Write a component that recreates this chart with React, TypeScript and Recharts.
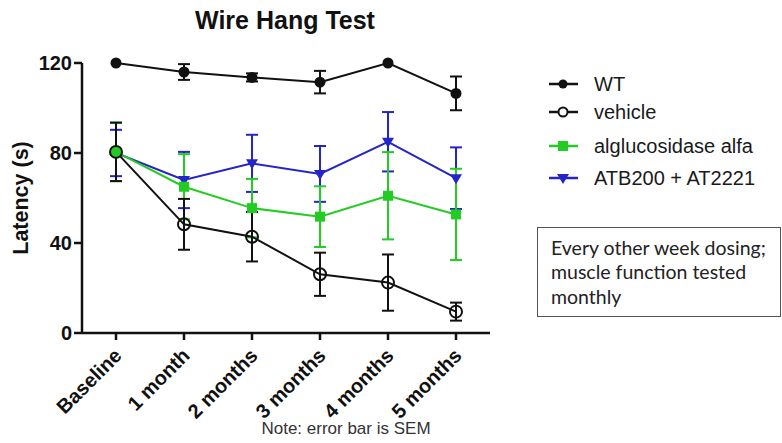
import React from 'react';
import { LineChart, Line, XAxis, YAxis, ErrorBar } from 'recharts';

const categories = ['Baseline', '1 month', '2 months', '3 months', '4 months', '5 months'];
const wt = [120, 116, 113.6, 111.5, 120, 106.5];
const wtSem = [0, 3.5, 1.8, 5, 0, 7.5];
const vehicle = [80.5, 48.3, 42.8, 26.1, 22.4, 9.5];
const vehicleSem = [13, 11.3, 11, 9.6, 12.5, 4];
const alglu = [80.5, 65, 55.5, 51.7, 61, 52.7];
const algluSem = [13, 14.5, 13, 13.5, 19.4, 20.3];
const atb = [80, 68, 75.4, 70.7, 85, 68.8];
const atbSem = [10.3, 12.5, 12.7, 12.4, 13.2, 13.7];
const yTicks = [0, 40, 80, 120];

const data = categories.map((c, i) => ({
  time: c,
  wt: wt[i], wtSem: wtSem[i],
  vehicle: vehicle[i], vehicleSem: vehicleSem[i],
  alglu: alglu[i], algluSem: algluSem[i],
  atb: atb[i], atbSem: atbSem[i],
}));

const BLACK = '#111';
const GREEN = '#22cc22';
const BLUE = '#2424c8';
const ARIAL = '"Liberation Sans", Arial, sans-serif';

function SquareDot({ cx, cy, index }: any) {
  return <rect key={`sq${index}`} x={cx - 5} y={cy - 5} width={10} height={10} fill={GREEN} />;
}

function TriDot({ cx, cy, index }: any) {
  return <path key={`tr${index}`} d={`M${cx - 6},${cy - 4} L${cx + 6},${cy - 4} L${cx},${cy + 6} Z`} fill={BLUE} />;
}

function MonthTick({ x, y, payload }: any) {
  return (
    <g transform={`translate(${x + 2},${y + 10})`}>
      <text textAnchor="end" transform="rotate(-45)" dominantBaseline="central"
        fontSize={20} fontWeight="bold" fill={BLACK} fontFamily={ARIAL}>{payload.value}</text>
    </g>
  );
}

// legend + annotations drawn over the chart
function Overlay() {
  const rows = [
    { name: 'WT', y: 84, color: BLACK, kind: 'filled' },
    { name: 'vehicle', y: 112, color: BLACK, kind: 'open' },
    { name: 'alglucosidase alfa', y: 146, color: GREEN, kind: 'square' },
    { name: 'ATB200 + AT2221', y: 178, color: BLUE, kind: 'tri' },
  ];
  return (
    <svg width={782} height={443} style={{ position: 'absolute', left: 0, top: 0 }}>
      <text x={285} y={20} textAnchor="middle" dominantBaseline="central" fontSize={25} fontWeight="bold" fill={BLACK} fontFamily={ARIAL}>Wire Hang Test</text>
      <text transform="translate(21,198) rotate(-90)" textAnchor="middle" dominantBaseline="central" fontSize={21.5} fontWeight="bold" fill={BLACK} fontFamily={ARIAL}>Latency (s)</text>
      <text x={346} y={428} textAnchor="middle" dominantBaseline="central" fontSize={17} fill="#333" fontFamily={ARIAL}>Note: error bar is SEM</text>
      {rows.map((r) => (
        <g key={r.name}>
          <line x1={549} x2={578} y1={r.y} y2={r.y} stroke={r.color} strokeWidth={2.5} />
          {r.kind === 'filled' && <circle cx={563} cy={r.y} r={4.5} fill={r.color} />}
          {r.kind === 'open' && <circle cx={563} cy={r.y} r={4.5} fill="#fff" stroke={r.color} strokeWidth={2} />}
          {r.kind === 'square' && <rect x={558} y={r.y - 5} width={10} height={10} fill={r.color} />}
          {r.kind === 'tri' && <path d={`M557,${r.y - 4} L569,${r.y - 4} L563,${r.y + 6} Z`} fill={r.color} />}
          <text x={594} y={r.y} dominantBaseline="central" fontSize={20} fill="#1a1a1a" fontFamily={ARIAL}>{r.name}</text>
        </g>
      ))}
      <rect x={537.5} y={227.5} width={243} height={89} fill="#fff" stroke="#555" strokeWidth={1} />
      <g fontFamily="Lato, sans-serif" fontSize={19.5} fill="#222">
        <text x={551} y={247} dominantBaseline="central">Every other week dosing;</text>
        <text x={551} y={271} dominantBaseline="central">muscle function tested</text>
        <text x={551} y={296} dominantBaseline="central">monthly</text>
      </g>
    </svg>
  );
}

export default function App() {
  return (
    <div style={{ position: 'absolute', left: 0, top: 0, width: 782, height: 443, background: '#fff', fontFamily: ARIAL }}>
      <LineChart width={782} height={443} data={data} margin={{ top: 63, right: 292, bottom: 30, left: 22 }}>
        <XAxis dataKey="time" height={80} padding={{ left: 34, right: 34 }} interval={0}
          axisLine={{ stroke: BLACK, strokeWidth: 2.5 }} tickLine={{ stroke: BLACK, strokeWidth: 2.5 }} tickSize={7}
          tick={<MonthTick />} />
        <YAxis width={60} domain={[0, 120]} ticks={yTicks} interval={0} tickSize={8} tickMargin={2}
          axisLine={{ stroke: BLACK, strokeWidth: 2.5 }} tickLine={{ stroke: BLACK, strokeWidth: 2.5 }}
          tick={{ fontSize: 20, fontWeight: 'bold', fill: BLACK, fontFamily: ARIAL }} />
        <Line dataKey="atb" stroke={BLUE} strokeWidth={2} dot={<TriDot />} isAnimationActive={false}>
          <ErrorBar dataKey="atbSem" direction="y" width={6} stroke={BLUE} strokeWidth={2} />
        </Line>
        <Line dataKey="alglu" stroke={GREEN} strokeWidth={2} dot={<SquareDot />} isAnimationActive={false}>
          <ErrorBar dataKey="algluSem" direction="y" width={6} stroke={GREEN} strokeWidth={2} />
        </Line>
        <Line dataKey="vehicle" stroke={BLACK} strokeWidth={2} dot={{ r: 6, fill: 'none', stroke: BLACK, strokeWidth: 2 }} isAnimationActive={false}>
          <ErrorBar dataKey="vehicleSem" direction="y" width={6} stroke={BLACK} strokeWidth={2} />
        </Line>
        <Line dataKey="wt" stroke={BLACK} strokeWidth={2} dot={{ r: 5.5, fill: BLACK, stroke: BLACK, strokeWidth: 0 }} isAnimationActive={false}>
          <ErrorBar dataKey="wtSem" direction="y" width={6} stroke={BLACK} strokeWidth={2} />
        </Line>
      </LineChart>
      <Overlay />
    </div>
  );
}
